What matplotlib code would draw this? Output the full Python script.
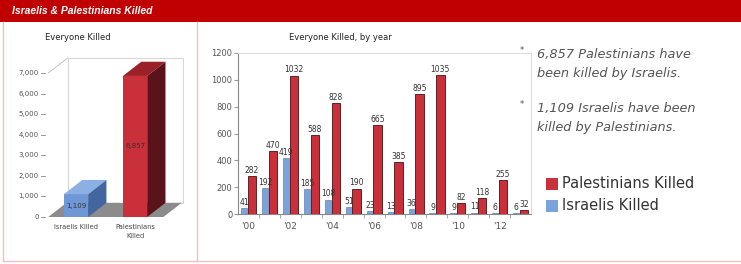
import matplotlib.pyplot as plt
from matplotlib.patches import Polygon, Rectangle
from matplotlib.lines import Line2D

# data
totals_labels = ["Israelis Killed", "Palestinians\nKilled"]
totals = [1109, 6857]

years = ["'00", "'01", "'02", "'03", "'04", "'05", "'06",
         "'07", "'08", "'09", "'10", "'11", "'12", "'13"]
israelis = [41, 192, 419, 185, 108, 51, 23, 13, 36, 9, 9, 11, 6, 6]
palestinians = [282, 470, 1032, 588, 828, 190, 665, 385, 895, 1035, 82, 118, 255, 32]

notes = ["6,857 Palestinians have\nbeen killed by Israelis.",
         "1,109 Israelis have been\nkilled by Palestinians."]

W, H = 741, 264
RED = "#c9303a"
BLUE = "#7aa3dc"


def rect(l, t, r, b):
    # pixel box -> figure fraction
    return [l / W, 1 - b / H, (r - l) / W, (b - t) / H]


fig = plt.figure(figsize=(W / 100, H / 100), dpi=100)
fig.patch.set_facecolor("white")

# header band and frame
fig.patches.append(Rectangle((0, 1 - 22 / H), 1, 22 / H, transform=fig.transFigure,
                             facecolor="#c00000", edgecolor="none", zorder=0))
fig.text(12 / W, 1 - 11 / H, "Israelis & Palestinians Killed", color="white",
         fontsize=7.5, fontstyle="italic", fontweight="bold", va="center",
         family="Liberation Sans")
pink = "#f3c0c0"
for xs, ys in [([3, 3], [22, 261]), ([3, W], [261, 261]), ([197, 197], [22, 261])]:
    fig.add_artist(Line2D([x / W for x in xs], [1 - y / H for y in ys],
                          color=pink, lw=1, transform=fig.transFigure))

# ---- left: 3D-ish totals ----
ax1 = fig.add_axes(rect(45, 55, 190, 217))
ax1.set_xlim(-0.525, 1.93)
ax1.set_ylim(0, 7875)
ax1.axis("off")
dx, dy, hw = 0.31, 690, 0.205

# back wall + floor
ax1.add_patch(Rectangle((-0.14, dy), 1.95, 7730 - dy, facecolor="white",
                        edgecolor="#d8d8d8", lw=0.8, zorder=1))
ax1.add_patch(Polygon([(-0.47, 0), (1.48, 0), (1.48 + dx, dy), (-0.47 + dx, dy)],
                      facecolor="#8c8c8c", edgecolor="none", zorder=2))
ax1.plot([-0.47, -0.14], [7000, 7730], color="#bbbbbb", lw=0.6, clip_on=False)

shades = [("#6f97d6", "#8db0e4", "#4466a0"), (RED, "#9c2027", "#5a1419")]
for i, (v, (front, top, side)) in enumerate(zip(totals, shades)):
    ax1.add_patch(Rectangle((i - hw, 0), 2 * hw, v, facecolor=front,
                            edgecolor="none", zorder=4))
    ax1.add_patch(Polygon([(i - hw, v), (i + hw, v), (i + hw + dx, v + dy),
                           (i - hw + dx, v + dy)], facecolor=top,
                          edgecolor="none", zorder=4))
    ax1.add_patch(Polygon([(i + hw, 0), (i + hw + dx, dy), (i + hw + dx, v + dy),
                           (i + hw, v)], facecolor=side, edgecolor="none", zorder=4))
    ax1.text(i, v / 2, f"{v:,}", fontsize=5, color="#333333", ha="center",
             va="center", zorder=5)
    ax1.text(i, -330, totals_labels[i], fontsize=4.8, color="#444444",
             ha="center", va="top", linespacing=1.6)

for t in range(0, 8000, 1000):
    ax1.plot([-0.6, -0.525], [t, t], color="#888888", lw=0.6, clip_on=False)
    ax1.text(-0.63, t, f"{t:,}", fontsize=5, color="#555555", ha="right",
             va="center")
fig.text(78 / W, 1 - 37 / H, "Everyone Killed", fontsize=6, color="#222222",
         ha="center", va="center")

# ---- middle: by year ----
ax2 = fig.add_axes(rect(238, 53, 531, 214))
x = list(range(len(years)))
ax2.bar([i - 0.2 for i in x], israelis, width=0.3, color=BLUE,
        edgecolor="#4d6fa3", lw=0.4, zorder=3)
ax2.bar([i + 0.17 for i in x], palestinians, width=0.4, color=RED,
        edgecolor="#4a0f12", lw=0.6, zorder=3)
for i in x:
    ax2.text(i - 0.2, israelis[i] + 8, str(israelis[i]), fontsize=5.5,
             color="#333333", ha="center", va="bottom", zorder=5)
    ax2.text(i + 0.17, palestinians[i] + 8, str(palestinians[i]), fontsize=5.5,
             color="#333333", ha="center", va="bottom", zorder=5)
ax2.set_xlim(-0.5, len(years) - 0.5)
ax2.set_ylim(0, 1200)
ax2.set_yticks(range(0, 1201, 200))
ax2.set_xticks(x[::2])
ax2.set_xticklabels(years[::2])
ax2.set_xticks([i + 0.5 for i in x[:-1]], minor=True)
ax2.tick_params(axis="x", which="major", length=0, labelsize=6.5,
                labelcolor="#555555", pad=6)
ax2.tick_params(axis="x", which="minor", length=3, color="#999999")
ax2.tick_params(axis="y", length=3, color="#999999", labelsize=6,
                labelcolor="#555555", pad=1)
for s in ["top", "right"]:
    ax2.spines[s].set_color("#dddddd")
for s in ["left", "bottom"]:
    ax2.spines[s].set_color("#888888")
fig.text(340 / W, 1 - 37 / H, "Everyone Killed, by year", fontsize=6,
         color="#222222", ha="center", va="center")

# ---- right: notes + legend ----
for k, (note, yb, yt) in enumerate(zip(notes, [50, 104], [55, 109])):
    fig.text(522 / W, 1 - yb / H, "*", fontsize=6, color="#555555",
             ha="center", va="center")
    fig.text(537 / W, 1 - (yt - 7) / H, note, fontsize=9.3, fontstyle="italic",
             color="#555555", va="top", linespacing=1.55)

for lab, col, yc in [("Palestinians Killed", RED, 184), ("Israelis Killed", BLUE, 206)]:
    fig.patches.append(Rectangle((546 / W, 1 - (yc + 6) / H), 12 / W, 12 / H,
                                 transform=fig.transFigure, facecolor=col,
                                 edgecolor="none"))
    fig.text(562 / W, 1 - yc / H, lab, fontsize=10.5, color="#333333",
             va="center")

fig.savefig("out.png", dpi=100)
